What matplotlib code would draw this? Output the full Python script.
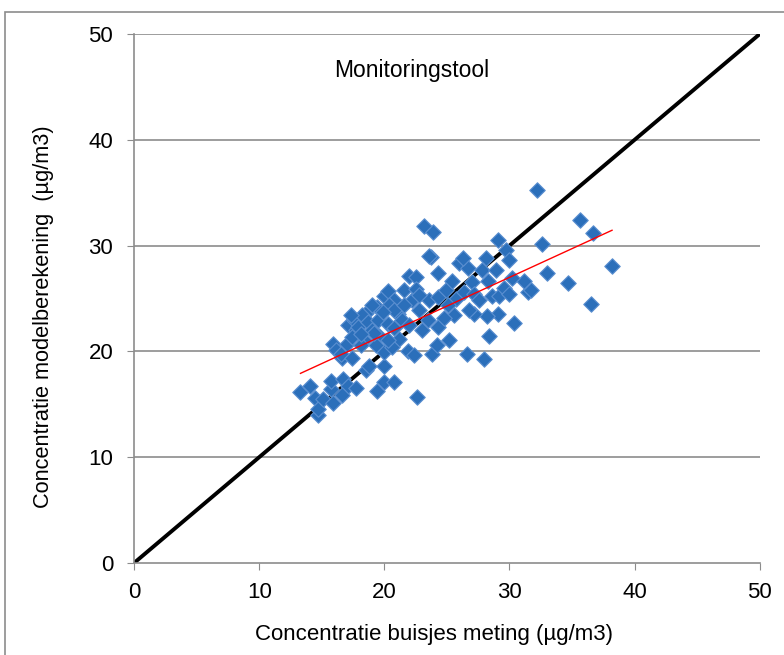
import numpy as np
import matplotlib.pyplot as plt
from matplotlib.patches import Rectangle

plt.rcParams['font.family'] = ['Liberation Sans', 'DejaVu Sans']

# buisjes meting (x) en modelberekening (y), ug/m3
meting = [
    13.3, 14.1, 14.5, 14.7, 14.7, 15.1, 15.7, 15.9, 15.7, 16.7, 17.1, 17.7, 16.6,
    15.9, 16.1, 16.6, 17.1, 17.6, 17.7, 18.4, 18.5, 18.8, 18.5, 19.4, 20.0, 20.0,
    19.4, 20.8, 20.0, 21.9, 22.4, 22.6, 23.8, 24.2, 25.2, 26.6, 24.3, 28.0, 28.4,
    29.1, 28.2, 30.4, 27.2,
    16.5, 17.0, 17.4, 18.1, 17.9, 18.2, 18.7, 19.0, 19.5, 19.6, 20.3, 20.0, 20.3,
    20.8, 21.1, 21.4, 21.6, 22.0, 22.5, 22.2, 22.5, 22.8, 22.0, 21.2, 20.6, 20.3,
    19.3, 23.0, 23.6, 23.5, 23.7, 24.3, 24.3, 24.9, 25.4, 25.7, 26.0, 26.4, 26.7,
    27.0, 27.2, 27.8, 28.1, 28.3, 28.6, 28.9, 29.2, 29.6, 29.7, 30.0, 30.0, 27.6,
    26.8, 25.6, 25.1, 24.8, 26.3,
    20.4, 20.8, 19.0, 17.3, 19.2, 20.8, 21.6, 22.8, 19.9, 18.1, 17.4,
    32.2, 35.6, 36.7, 38.2, 36.5, 34.7, 33.0, 32.6, 31.5, 31.2, 29.1, 23.2, 23.9,
    23.6, 31.7, 30.2,
]
model = [
    16.2, 16.7, 15.6, 14.0, 14.6, 15.5, 16.4, 15.1, 17.2, 17.4, 16.7, 16.5, 15.9,
    20.7, 20.1, 19.4, 22.5, 23.0, 22.0, 21.1, 18.2, 18.6, 23.6, 24.2, 18.6, 17.1,
    16.3, 17.1, 19.9, 20.0, 19.7, 15.7, 19.8, 20.6, 21.1, 19.8, 22.3, 19.3, 21.5,
    23.5, 23.3, 22.7, 23.5,
    19.8, 20.7, 21.4, 20.6, 22.3, 23.4, 22.8, 22.0, 23.0, 21.5, 22.6, 25.2, 25.7,
    24.9, 23.5, 23.0, 25.8, 27.1, 27.0, 24.9, 25.9, 23.9, 22.5, 21.2, 20.4, 21.1,
    20.6, 22.0, 24.9, 23.0, 28.9, 27.4, 25.1, 25.8, 26.7, 25.0, 28.4, 25.6, 27.9,
    26.6, 25.4, 27.7, 28.8, 26.7, 25.2, 27.7, 25.2, 26.0, 29.6, 28.6, 25.4, 24.9,
    23.9, 23.4, 24.4, 23.2, 28.8,
    24.4, 23.9, 24.4, 23.4, 21.7, 22.2, 24.4, 25.3, 23.7, 21.6, 19.4,
    35.3, 32.4, 31.2, 28.1, 24.5, 26.5, 27.4, 30.2, 25.6, 26.7, 30.5, 31.9, 31.3,
    29.0, 25.8, 26.9,
]

ticks = [0, 10, 20, 30, 40, 50]

fig = plt.figure(figsize=(7.84, 6.55), dpi=100)
ax = fig.add_axes([0.171, 0.1405, 0.798, 0.8075])

grey = '#8c8c8c'
for t in ticks[1:]:
    ax.axhline(t, color=grey, lw=1.2, zorder=1)

ax.plot([0, 50], [0, 50], color='black', lw=2.8, zorder=2, solid_capstyle='butt')
ax.scatter(meting, model, marker='D', s=62, color='#2B6FBA',
           edgecolors='#5B8FD0', linewidths=0.8, zorder=3)

# lineaire trendlijn
a, b = np.polyfit(meting, model, 1)
xs = np.array([min(meting), max(meting)])
ax.plot(xs, a * xs + b, color='red', lw=1, zorder=4)

ax.set_xlim(0, 50)
ax.set_ylim(0, 50)
ax.set_xticks(ticks)
ax.set_yticks(ticks)
ax.tick_params(direction='out', length=5, color=grey, labelsize=16)
ax.tick_params(axis='x', pad=9)
ax.tick_params(axis='y', pad=10)
for side in ['top', 'right']:
    ax.spines[side].set_visible(False)
for side in ['left', 'bottom']:
    ax.spines[side].set_color(grey)
    ax.spines[side].set_linewidth(1.2)

ax.text(22.2, 46.6, 'Monitoringstool', fontsize=16.5, ha='center', va='center')
ax.set_xlabel('Concentratie buisjes meting (µg/m3)', fontsize=16)
ax.set_ylabel('Concentratie modelberekening  (µg/m3)', fontsize=15.7)
ax.xaxis.set_label_coords(0.479, -0.116)
ax.yaxis.set_label_coords(-0.128, 0.465)

fig.patches.append(Rectangle((5 / 784, -0.1), 2, 1.1 - 12 / 655,
                             transform=fig.transFigure, fill=False,
                             edgecolor=grey, lw=1.2))

fig.savefig('out.png', dpi=100)
